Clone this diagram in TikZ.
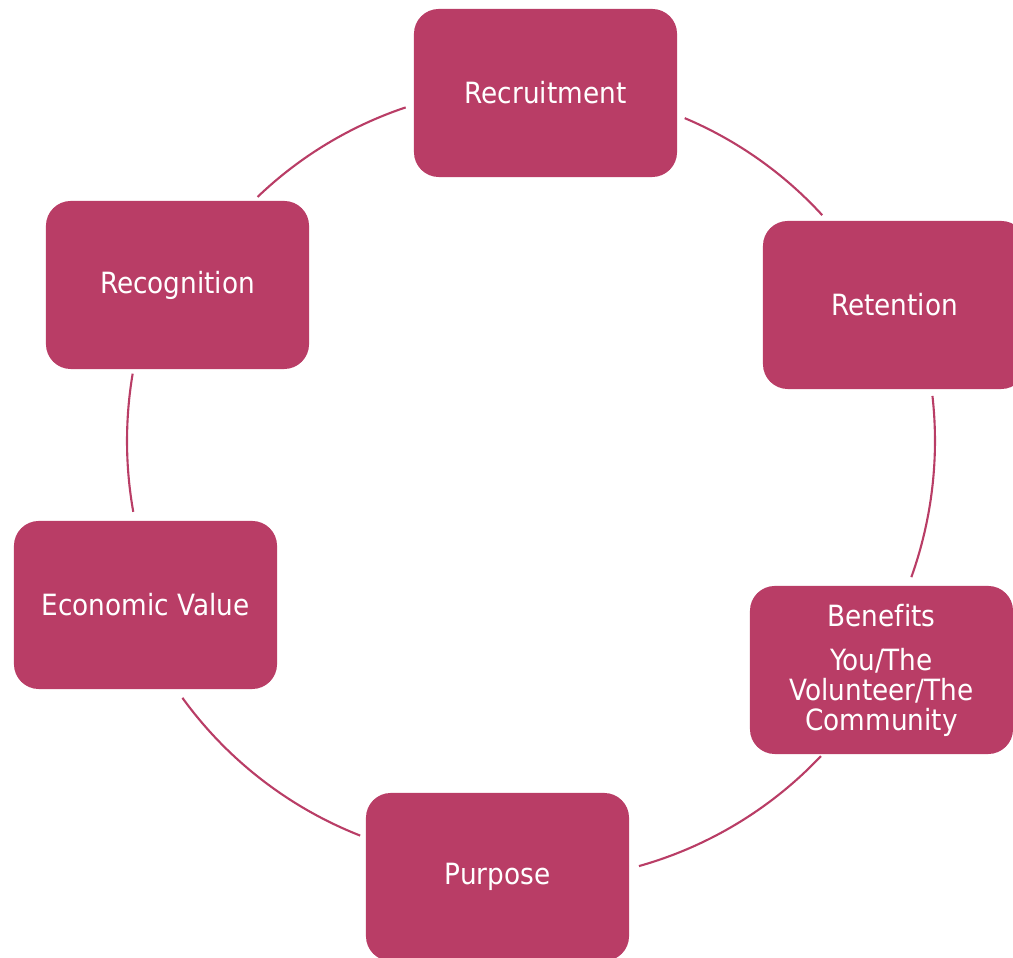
\documentclass[tikz,border=0pt]{standalone}
\usepackage{fontspec}
\setmainfont[Ligatures=NoCommon]{DejaVu Sans Condensed}
\usepackage{xcolor}
\definecolor{cyclepink}{RGB}{185,61,102}

\tikzset{
    stage/.style={fill=cyclepink, draw=none, rounded corners=0.62cm,
        minimum width=6.575cm, minimum height=4.2cm, inner sep=2pt,
        text=white, align=center, font=\fontsize{20.8}{21.3}\selectfont},
    link/.style={draw=cyclepink, line width=1.5pt}
}

\begin{document}
\begin{tikzpicture}[x=0.025cm, y=0.025cm]
    \path[use as bounding box, clip] (0,0) rectangle (1013,958);

    \coordinate (cen) at (531,476);
    \coordinate (cenmid) at (531,517);
    \coordinate (cenlow) at (506.4,494.7);

    \node[stage] (recruit) at (545.5,865) {Recruitment};
    \node[stage] (retain) at (894.5,653) {Retention};
    \node[stage] (benefit) at (881.5,288) {Benefits\\[10pt]You/The\\Volunteer/The\\Community};
    \node[stage] (purpose) at (497.5,81) {Purpose};
    \node[stage] (econ) at (145.5,353) {Economic Value};
    \node[stage] (recog) at (177.5,673) {Recognition};

    % arcs of the cycle
    \draw[link] ([shift={(67.1:395)}]cen) arc[start angle=67.1, end angle=42.5, radius=395];
    \draw[link] ([shift={(6.4:404)}]cenmid) arc[start angle=6.4, end angle=-19.7, radius=404];
    \draw[link] ([shift={(-43.4:399)}]cen) arc[start angle=-43.4, end angle=-74.3, radius=399];
    \draw[link] ([shift={(248.55:400)}]cenlow) arc[start angle=248.55, end angle=215.9, radius=400];
    \draw[link] ([shift={(190.1:404)}]cenmid) arc[start angle=190.1, end angle=170.4, radius=404];
    \draw[link] ([shift={(133.8:395)}]cen) arc[start angle=133.8, end angle=108.5, radius=395];
\end{tikzpicture}
\end{document}
